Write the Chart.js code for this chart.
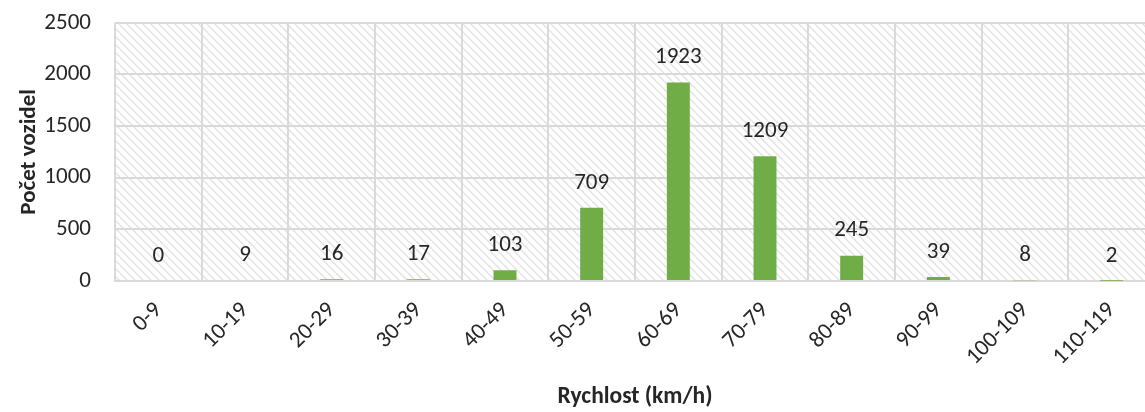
<!DOCTYPE html>
<html><head><meta charset="utf-8">
<script src="https://cdn.jsdelivr.net/npm/chart.js@4.4.0/dist/chart.umd.min.js"></script>
<style>html,body{margin:0;padding:0;background:#fff;overflow:hidden}#wrap{width:1145px;height:412px;overflow:hidden}#c{display:block;margin-top:-15px}</style>
</head><body><div id="wrap"><canvas id="c" width="1160" height="427"></canvas></div>
<script>
const categories = ["0-9","10-19","20-29","30-39","40-49","50-59","60-69","70-79","80-89","90-99","100-109","110-119"];
const counts = [0,9,16,17,103,709,1923,1209,245,39,8,2];
const yTicks = [0,500,1000,1500,2000,2500];
const xTitle = "Rychlost (km/h)";
const yTitle = "Počet vozidel";

const FONT = "Carlito, Lato, 'Open Sans', sans-serif";
const FS = 23;

function makePattern(ctx){
  const p = document.createElement('canvas');
  p.width = 8; p.height = 8;
  const g = p.getContext('2d');
  g.fillStyle = '#fff'; g.fillRect(0,0,8,8);
  g.strokeStyle = '#e6e6e6'; g.lineWidth = 1.8;
  for (let o=-8;o<=8;o+=8){
    g.beginPath(); g.moveTo(o,0); g.lineTo(o+8,8); g.stroke();
  }
  return ctx.createPattern(p,'repeat');
}

const bgPlugin = {
  id:'bg',
  beforeDraw(chart){
    const {ctx, chartArea:a} = chart;
    ctx.save();
    ctx.fillStyle = makePattern(ctx);
    ctx.fillRect(a.left,a.top,a.right-a.left,a.bottom-a.top);
    ctx.restore();
  }
};
const labelPlugin = {
  id:'lbl',
  afterDatasetsDraw(chart){
    const {ctx} = chart;
    const meta = chart.getDatasetMeta(0);
    ctx.save();
    ctx.font = FS + "px " + FONT;
    ctx.fillStyle = '#262626';
    ctx.textAlign='center'; ctx.textBaseline='middle';
    meta.data.forEach((el,i)=>{
      ctx.fillText(String(counts[i]), el.x, el.y - 25);
    });
    ctx.restore();
  }
};

new Chart(document.getElementById('c'),{
  type:'bar',
  data:{labels:categories,datasets:[{data:counts,backgroundColor:'#70ad47',barPercentage:0.265,categoryPercentage:1}]},
  plugins:[bgPlugin,labelPlugin],
  options:{
    responsive:false,animation:false,
    layout:{padding:{top:0,right:5,left:0,bottom:0}},
    plugins:{legend:{display:false},tooltip:{enabled:false}},
    scales:{
      x:{
        grid:{color:'#d9d9d9',lineWidth:2,offset:true,drawTicks:false},
        border:{color:'#d9d9d9',width:2},
        ticks:{color:'#262626',font:{family:FONT,size:FS},minRotation:45,maxRotation:45,padding:16},
        title:{display:true,text:xTitle,color:'#262626',font:{family:FONT,size:FS+0.5,weight:'bold'},padding:{top:4,bottom:1}},
        afterFit(s){s.height = 131;}
      },
      y:{
        min:0,max:2500,
        grid:{color:'#d9d9d9',lineWidth:2,drawTicks:false},
        border:{display:false},
        afterBuildTicks(s){s.ticks = yTicks.map(v=>({value:v}));},
        ticks:{color:'#262626',font:{family:FONT,size:FS},padding:24,callback:(v)=>String(v)},
        title:{display:true,text:yTitle,color:'#262626',font:{family:FONT,size:FS,weight:'bold'},padding:{top:15,bottom:0}},
        afterFit(s){s.width = 115;}
      }
    }
  }
});
</script></body></html>
